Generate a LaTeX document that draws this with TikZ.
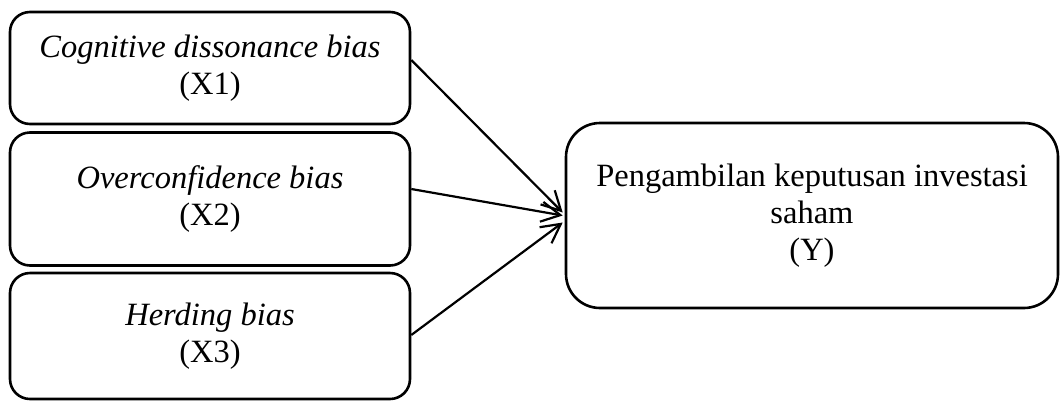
\documentclass[tikz,border=0pt]{standalone}
\usepackage{fontspec}
\setmainfont{Liberation Serif}
\usetikzlibrary{arrows.meta,positioning}
\begin{document}
\begin{tikzpicture}[x=1pt,y=-1pt,
  varbox/.style={draw,line width=2.6pt,rounded corners=20pt,align=center,
    font=\fontsize{32.5}{37}\selectfont,inner sep=0pt},
  resbox/.style={varbox,rounded corners=34pt},
  conn/.style={line width=2.2pt,-{Straight Barb[length=19pt,width=20pt,line width=2.2pt]}}]
\useasboundingbox (0,0) rectangle (1060,400);
\node[varbox,minimum width=400pt,minimum height=112pt] (X1) at (210,68) {\textit{Cognitive dissonance bias}\\(X1)};
\node[varbox,minimum width=400pt,minimum height=133pt] (X2) at (210,199) {\textit{Overconfidence bias}\\(X2)};
\node[varbox,minimum width=400pt,minimum height=126pt] (X3) at (210,336) {\textit{Herding bias}\\(X3)};
\node[resbox,minimum width=492pt,minimum height=185pt] (Y) at (812,215.5) {Pengambilan keputusan investasi\\saham\\(Y)};
\coordinate (e1) at ([yshift=3pt,xshift=-2pt]Y.west);
\coordinate (e2) at ([xshift=-2pt]Y.west);
\coordinate (e3) at ([yshift=-7pt,xshift=-2pt]Y.west);
\draw[conn] ([yshift=8pt]X1.east) -- (e1);
\draw[conn] ([yshift=10pt]X2.east) -- (e2);
\draw[conn] ([yshift=1pt]X3.east) -- (e3);
\end{tikzpicture}
\end{document}
